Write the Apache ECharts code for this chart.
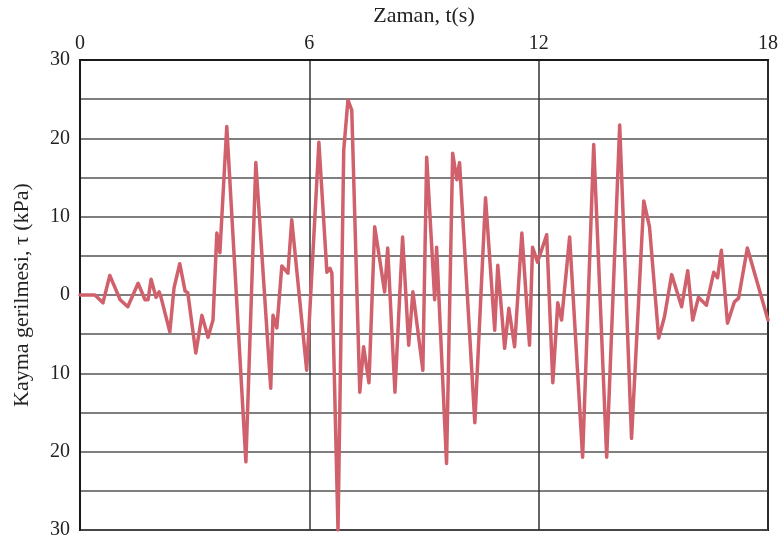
<!DOCTYPE html>
<html>
<head>
<meta charset="utf-8">
<script src="https://cdn.jsdelivr.net/npm/echarts@6/dist/echarts.min.js"></script>
<style>
html,body{margin:0;padding:0;background:#fff;}
#chart{width:781px;height:546px;}
</style>
</head>
<body>
<div id="chart"></div>
<script>
// Time (s)
var times = [0,0.39,0.60,0.78,1.05,1.25,1.52,1.70,1.78,1.86,1.99,2.07,2.12,2.35,2.46,2.61,2.75,2.82,3.03,3.19,3.35,3.48,3.58,3.66,3.84,4.34,4.60,4.99,5.05,5.15,5.28,5.44,5.54,5.93,6.25,6.46,6.54,6.59,6.75,6.90,7.01,7.11,7.32,7.42,7.56,7.71,7.97,8.05,8.24,8.44,8.60,8.71,8.97,9.07,9.28,9.33,9.59,9.75,9.86,9.93,10.33,10.61,10.85,10.93,11.11,11.22,11.37,11.56,11.76,11.84,11.97,12.21,12.37,12.50,12.60,12.81,13.15,13.44,13.78,14.12,14.43,14.75,14.90,15.14,15.29,15.48,15.74,15.90,16.03,16.18,16.39,16.58,16.68,16.78,16.94,17.12,17.23,17.46,18];
// Shear stress (kPa)
var stress = [0,0,-1.0,2.5,-0.6,-1.5,1.5,-0.6,-0.6,2.0,-0.3,0.4,-0.3,-4.7,0.9,4.0,0.5,0.3,-7.4,-2.6,-5.4,-3.2,7.9,5.4,21.5,-21.3,16.9,-11.9,-2.6,-4.2,3.7,2.8,9.6,-9.6,19.5,2.9,3.4,2.8,-30,18.5,24.9,23.6,-12.4,-6.6,-11.2,8.7,0.4,6.0,-12.4,7.4,-6.4,0.4,-9.6,17.6,-0.6,6.1,-21.5,18.1,14.7,16.9,-16.3,12.4,-4.5,3.8,-6.8,-1.7,-6.6,7.9,-6.4,6.1,4.2,7.7,-11.2,-1.0,-3.2,7.4,-20.7,19.2,-20.7,21.7,-18.3,12.0,8.7,-5.5,-2.8,2.6,-1.5,3.1,-3.2,-0.3,-1.3,2.9,2.2,5.7,-3.6,-0.9,-0.4,6.0,-3.2];
// Tick labels
var xTicks = [0, 6, 12, 18];
var yTicks = [-30, -20, -10, 0, 10, 20, 30];

var xTitle = 'Zaman, t(s)';
var yTitle = 'Kayma gerilmesi, \u03c4 (kPa)';

var seriesData = times.map(function (t, i) { return [t, stress[i]]; });

var chart = echarts.init(document.getElementById('chart'));
var font = 'Liberation Serif';
chart.setOption({
  animation: false,
  backgroundColor: '#ffffff',
  grid: {
    left: 80, right: 13, top: 60, bottom: 16,
    outerBoundsMode: 'none', containLabel: false,
    show: true, borderColor: '#1a1a1a', borderWidth: 2, backgroundColor: 'transparent'
  },
  xAxis: {
    type: 'value', position: 'top',
    min: xTicks[0], max: xTicks[xTicks.length - 1], interval: 6,
    name: xTitle, nameLocation: 'middle', nameGap: 33,
    nameTextStyle: { fontFamily: font, fontSize: 22, color: '#222' },
    axisLine: { show: true, onZero: false, lineStyle: { color: '#1a1a1a', width: 2 } },
    axisTick: { show: false },
    axisLabel: { fontFamily: font, fontSize: 20, color: '#222', margin: 6 },
    splitLine: { show: true, lineStyle: { color: '#333', width: 1.5 } }
  },
  yAxis: {
    type: 'value',
    min: yTicks[0], max: yTicks[yTicks.length - 1], interval: 5,
    name: yTitle, nameLocation: 'middle', nameGap: 47, nameRotate: 90,
    nameTextStyle: { fontFamily: font, fontSize: 22, color: '#222' },
    axisLine: { show: true, onZero: false, lineStyle: { color: '#1a1a1a', width: 2 } },
    axisTick: { show: false },
    axisLabel: {
      fontFamily: font, fontSize: 20, color: '#222', margin: 10,
      formatter: function (v) { return yTicks.indexOf(v) >= 0 ? String(Math.abs(v)) : ''; }
    },
    splitLine: { show: true, lineStyle: { color: '#555', width: 1.5 } }
  },
  series: [{
    type: 'line',
    data: seriesData,
    showSymbol: false,
    clip: true,
    lineStyle: { color: '#d0606b', width: 3.5, join: 'round', cap: 'round' },
    z: 3
  }]
});
</script>
</body>
</html>
